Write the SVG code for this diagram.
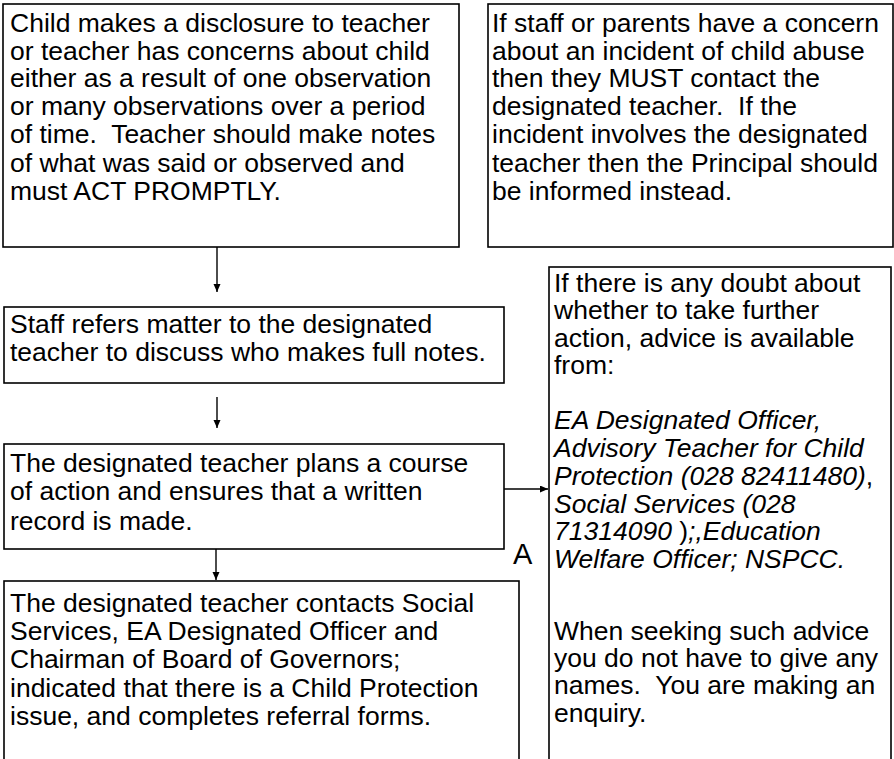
<svg xmlns="http://www.w3.org/2000/svg" width="894" height="759" viewBox="0 0 894 759">
<style>
.box{fill:#fff;stroke:#000;stroke-width:1.6}
.t{font-family:"Liberation Sans",Arial,sans-serif;font-size:26.5px;fill:#000}
.i{font-style:italic}
.c{stroke:#000;stroke-width:1.4;fill:none}
</style>
<defs>
<marker id="ah" markerUnits="userSpaceOnUse" markerWidth="8" markerHeight="8" refX="8" refY="3.5" orient="auto">
<path d="M0,0 L8,3.5 L0,7 z" fill="#000"/>
</marker>
</defs>
<rect width="894" height="759" fill="#fff"/>
<g id="connectors">
<line class="c" x1="217" y1="247" x2="217" y2="292" marker-end="url(#ah)"/>
<line class="c" x1="217" y1="397" x2="217" y2="428" marker-end="url(#ah)"/>
<line class="c" x1="216" y1="549" x2="216" y2="580" marker-end="url(#ah)"/>
<line class="c" x1="504" y1="489" x2="548" y2="489" marker-end="url(#ah)"/>
</g>
<g id="node-disclosure">
<rect class="box" x="3" y="4" width="456" height="243"/>
<text class="t" x="10" y="32">Child makes a disclosure to teacher</text>
<text class="t" x="10" y="60">or teacher has concerns about child</text>
<text class="t" x="10" y="87">either as a result of one observation</text>
<text class="t" x="10" y="115">or many observations over a period</text>
<text class="t" x="10" y="143" xml:space="preserve">of time.  Teacher should make notes</text>
<text class="t" x="10" y="172">of what was said or observed and</text>
<text class="t" x="10" y="200">must ACT PROMPTLY.</text>
</g>
<g id="node-staff-concern">
<rect class="box" x="488" y="4" width="405" height="243"/>
<text class="t" x="492" y="32">If staff or parents have a concern</text>
<text class="t" x="492" y="60">about an incident of child abuse</text>
<text class="t" x="492" y="87">then they MUST contact the</text>
<text class="t" x="492" y="115" xml:space="preserve">designated teacher.  If the</text>
<text class="t" x="492" y="143">incident involves the designated</text>
<text class="t" x="492" y="172">teacher then the Principal should</text>
<text class="t" x="492" y="200">be informed instead.</text>
</g>
<g id="node-refers">
<rect class="box" x="4" y="307" width="500" height="76"/>
<text class="t" x="10" y="333">Staff refers matter to the designated</text>
<text class="t" x="10" y="361">teacher to discuss who makes full notes.</text>
</g>
<g id="node-plans">
<rect class="box" x="4" y="444" width="500" height="105"/>
<text class="t" x="10" y="472">The designated teacher plans a course</text>
<text class="t" x="10" y="500">of action and ensures that a written</text>
<text class="t" x="10" y="530">record is made.</text>
</g>
<g id="node-contacts">
<rect class="box" x="4" y="581" width="515" height="200"/>
<text class="t" x="10" y="612">The designated teacher contacts Social</text>
<text class="t" x="10" y="640">Services, EA Designated Officer and</text>
<text class="t" x="10" y="668">Chairman of Board of Governors;</text>
<text class="t" x="10" y="697">indicated that there is a Child Protection</text>
<text class="t" x="10" y="725">issue, and completes referral forms.</text>
</g>
<g id="node-advice">
<rect class="box" x="549" y="267" width="342" height="520"/>
<text class="t" x="554" y="292">If there is any doubt about</text>
<text class="t" x="554" y="319">whether to take further</text>
<text class="t" x="554" y="347">action, advice is available</text>
<text class="t" x="554" y="374">from:</text>
<text class="t i" x="554" y="429">EA Designated Officer,</text>
<text class="t i" x="554" y="457">Advisory Teacher for Child</text>
<text class="t" x="554" y="485"><tspan class="i">Protection (028 82411480)</tspan>,</text>
<text class="t i" x="554" y="513">Social Services (028</text>
<text class="t" x="554" y="540"><tspan class="i" xml:space="preserve">71314090 </tspan>)<tspan class="i">;,Education</tspan></text>
<text class="t i" x="554" y="568">Welfare Officer; NSPCC.</text>
<text class="t" x="554" y="640">When seeking such advice</text>
<text class="t" x="554" y="667">you do not have to give any</text>
<text class="t" x="554" y="694" xml:space="preserve">names.  You are making an</text>
<text class="t" x="554" y="722">enquiry.</text>
</g>
<g id="label-A">
<text class="t" x="513" y="564" style="font-size:29px">A</text>
</g>
</svg>
